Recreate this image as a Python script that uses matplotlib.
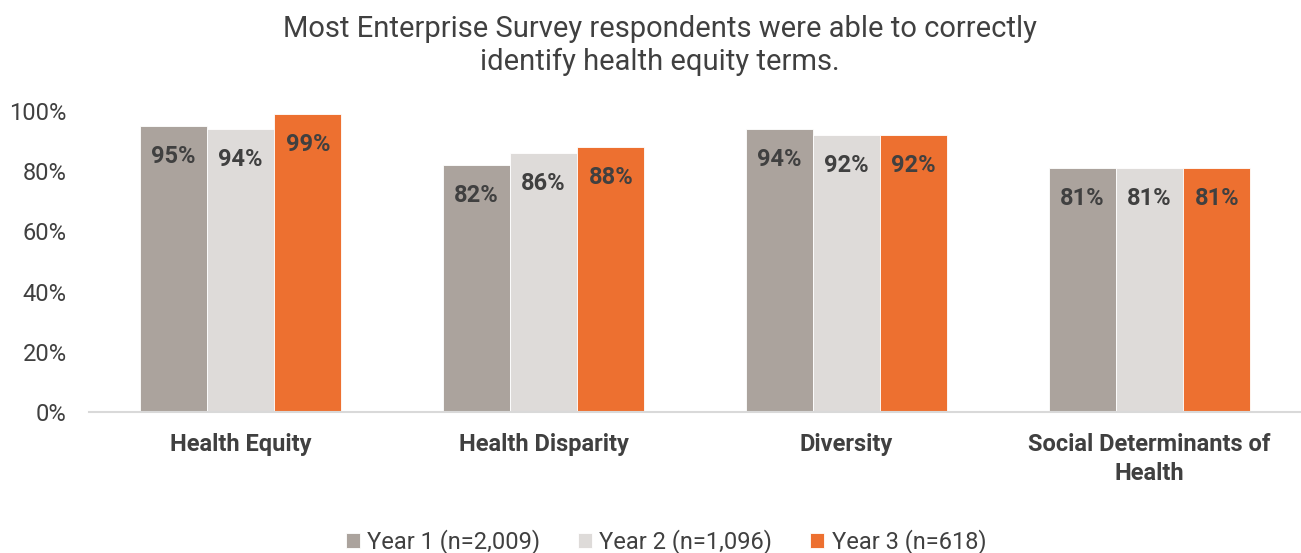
import numpy as np
import matplotlib.pyplot as plt
from matplotlib.ticker import FuncFormatter

plt.rcParams['font.family'] = ['Roboto', 'DejaVu Sans']

categories = ['Health Equity', 'Health Disparity', 'Diversity',
              'Social Determinants of\nHealth']
series_names = ['Year 1 (n=2,009)', 'Year 2 (n=1,096)', 'Year 3 (n=618)']
year1 = [95, 82, 94, 81]
year2 = [94, 86, 92, 81]
year3 = [99, 88, 92, 81]
colors = ['#aba39d', '#dedbd9', '#ed7030']

text_color = '#404040'

fig = plt.figure(figsize=(13.01, 5.53), dpi=100)
ax = fig.add_axes([0.0684, 0.255, 0.9316, 0.544])

x = np.arange(len(categories))
width = 0.222
for i, (vals, name, c) in enumerate(zip([year1, year2, year3], series_names, colors)):
    pos = x + (i - 1) * width
    bars = ax.bar(pos, np.array(vals) / 100, width, color=c, label=name,
                  edgecolor='white', linewidth=0.6)
    for b, v in zip(bars, vals):
        ax.text(b.get_x() + b.get_width() / 2, v / 100 - 0.1, f'{v}%',
                ha='center', va='center', fontsize=17, fontweight='bold',
                color=text_color)

ax.set_xlim(-0.5, 3.5)
ax.set_ylim(0, 1.0)
ax.set_yticks(np.arange(0, 1.01, 0.2))
ax.yaxis.set_major_formatter(FuncFormatter(lambda v, p: f'{v:.0%}'))
ax.set_xticks(x)
ax.set_xticklabels(categories, fontsize=17, fontweight='bold', color=text_color,
                   linespacing=1.35)
ax.tick_params(axis='y', labelsize=17, labelcolor=text_color, length=0, pad=16)
ax.tick_params(axis='x', length=0, pad=15)

for s in ['top', 'right', 'left']:
    ax.spines[s].set_visible(False)
ax.spines['bottom'].set_color('#d9d9d9')
ax.spines['bottom'].set_linewidth(1.5)

fig.suptitle('Most Enterprise Survey respondents were able to correctly\n'
             'identify health equity terms.', x=0.507, y=0.972, fontsize=21,
             color=text_color, linespacing=1.2)

fig.legend(loc='lower center', bbox_to_anchor=(0.512, -0.041), ncol=3,
           frameon=False, fontsize=17, handlelength=0.6, handleheight=0.6,
           handletextpad=0.3, columnspacing=1.6, labelcolor=text_color)

fig.savefig('out.png', dpi=100)
